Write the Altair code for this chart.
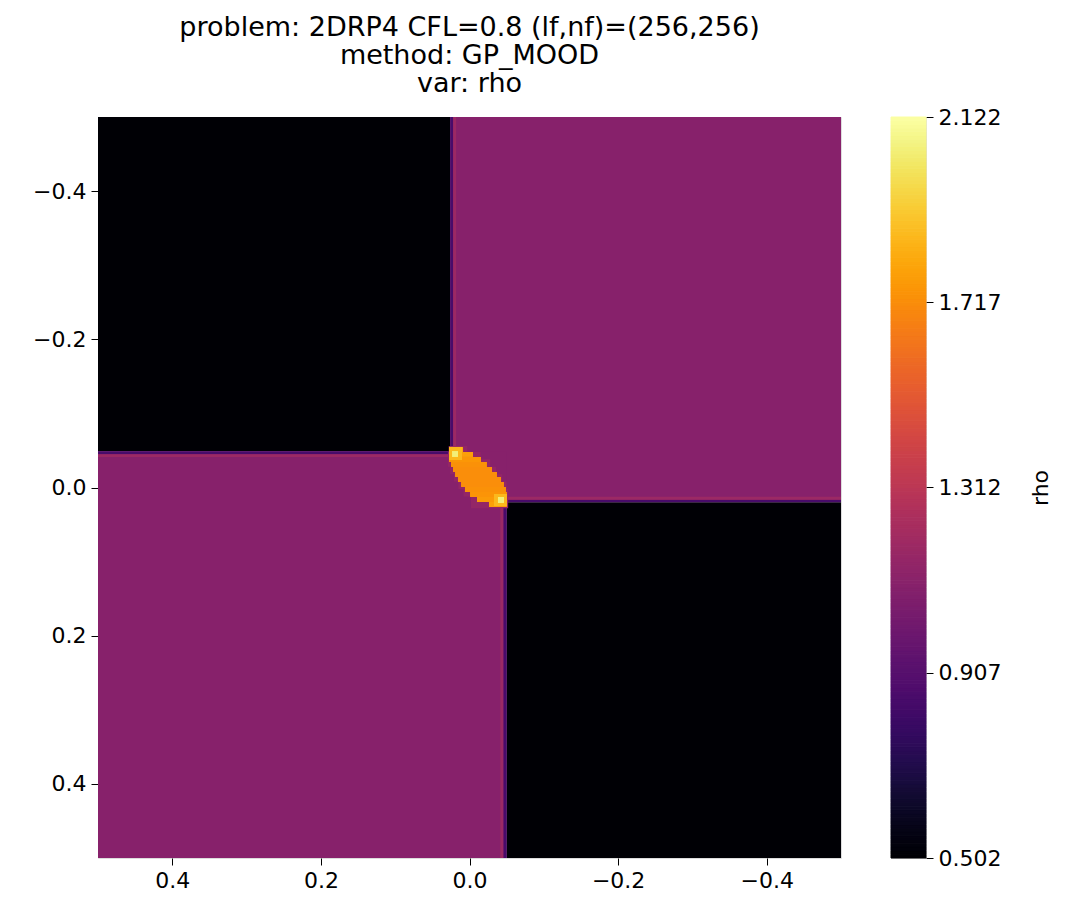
import altair as alt
import pandas as pd
import numpy as np

FONT = "DejaVu Sans"

title_lines = ["problem: 2DRP4 CFL=0.8 (lf,nf)=(256,256)", "method: GP_MOOD", "var: rho"]
x_ticks = [0.4, 0.2, 0.0, -0.2, -0.4]
y_ticks = [-0.4, -0.2, 0.0, 0.2, 0.4]
cbar_ticks = [0.502, 0.907, 1.312, 1.717, 2.122]
rho_min, rho_max = 0.502, 2.122

# four constant states (quadrants)
reg_x0 = [0.5, 0.026, 0.5, -0.050]
reg_x1 = [0.026, -0.5, -0.050, -0.5]
reg_y0 = [-0.5, -0.5, -0.049, 0.020]
reg_y1 = [-0.049, 0.020, 0.5, 0.5]
reg_rho = [0.507, 1.1, 1.1, 0.507]

# smeared contact/shock edges
edge_x0 = [0.026, 0.022, 0.5, 0.5, -0.050, -0.050, -0.0455, -0.0415]
edge_x1 = [0.022, 0.018, 0.026, 0.026, -0.5, -0.5, -0.050, -0.0455]
edge_y0 = [-0.5, -0.5, -0.049, -0.045, 0.0165, 0.0125, 0.020, 0.020]
edge_y1 = [-0.049, -0.049, -0.045, -0.041, 0.020, 0.0165, 0.5, 0.5]
edge_rho = [0.85, 1.18, 0.85, 1.18, 0.85, 1.18, 0.85, 1.18]

# faint lighter halo around the central lens
halo_y0 = [-0.0560, -0.0480, -0.0380, -0.0280, -0.0180, -0.0080, 0.0020, 0.0120]
halo_y1 = [-0.0480, -0.0380, -0.0280, -0.0180, -0.0080, 0.0020, 0.0120, 0.0280]
halo_x0 = [0.0280, 0.0290, 0.0290, 0.0260, 0.0210, 0.0150, 0.0080, -0.0020]
halo_x1 = [0.0030, -0.0150, -0.0280, -0.0360, -0.0440, -0.0500, -0.0520, -0.0520]
halo_rho = [1.15, 1.15, 1.15, 1.15, 1.15, 1.15, 1.15, 1.15]

# central lens, row by row
ell_y0 = [-0.0547, -0.0479, -0.0412, -0.0344, -0.0277, -0.0209, -0.0142, -0.0074, -0.0007, 0.0061, 0.0128, 0.0196]
ell_y1 = [-0.0479, -0.0412, -0.0344, -0.0277, -0.0209, -0.0142, -0.0074, -0.0007, 0.0061, 0.0128, 0.0196, 0.0263]
ell_x0 = [0.0249, 0.0276, 0.0276, 0.0249, 0.0222, 0.0195, 0.0155, 0.0114, 0.0061, -0.0007, -0.0101, -0.0262]
ell_x1 = [0.0087, -0.0047, -0.0155, -0.0235, -0.0303, -0.0370, -0.0424, -0.0464, -0.0491, -0.0504, -0.0504, -0.0504]
ell_rho = [1.80, 1.78, 1.75, 1.73, 1.72, 1.72, 1.72, 1.72, 1.73, 1.74, 1.76, 1.78]

# bright spots at the lens tips
spot_x0 = [0.0276, 0.0235, -0.0329, -0.0383]
spot_x1 = [0.0101, 0.0155, -0.0504, -0.0464]
spot_y0 = [-0.0547, -0.0492, 0.0088, 0.0128]
spot_y1 = [-0.0371, -0.0412, 0.0250, 0.0209]
spot_rho = [1.86, 2.05, 1.86, 2.05]

df = pd.DataFrame({
    "x0": reg_x0 + edge_x0 + halo_x0 + ell_x0 + spot_x0,
    "x1": reg_x1 + edge_x1 + halo_x1 + ell_x1 + spot_x1,
    "y0": reg_y0 + edge_y0 + halo_y0 + ell_y0 + spot_y0,
    "y1": reg_y1 + edge_y1 + halo_y1 + ell_y1 + spot_y1,
    "rho": reg_rho + edge_rho + halo_rho + ell_rho + spot_rho,
})
df["order"] = range(len(df))

color_scale = alt.Scale(scheme="inferno", domain=[rho_min, rho_max], clamp=True)

LABEL_SIZE = 22

axis_common = dict(
    grid=False, domain=False, tickColor="black", tickSize=7, tickWidth=1,
    labelFontSize=LABEL_SIZE, labelColor="black", labelFont=FONT, labelPadding=5, title=None,
)

heat = alt.Chart(df).mark_rect(clip=True).encode(
    x=alt.X("x0:Q", scale=alt.Scale(domain=[-0.5, 0.5], reverse=True, nice=False, zero=False),
            axis=alt.Axis(values=x_ticks, format=".1f", **axis_common)),
    x2="x1:Q",
    y=alt.Y("y0:Q", scale=alt.Scale(domain=[-0.5, 0.5], reverse=True, nice=False, zero=False),
            axis=alt.Axis(values=y_ticks, format=".1f", **axis_common)),
    y2="y1:Q",
    color=alt.Color("rho:Q", scale=color_scale, legend=None),
    order="order:Q",
).properties(
    width=743, height=741,
    title=alt.TitleParams(title_lines, font=FONT, fontSize=27, fontWeight="normal",
                          color="black", anchor="middle", lineHeight=28, offset=19),
)

edges = np.linspace(rho_min, rho_max, 201)
cb = pd.DataFrame({"v0": edges[:-1], "v1": edges[1:], "c": "cb"})
cb["rho"] = (cb["v0"] + cb["v1"]) / 2

cbar = alt.Chart(cb).mark_rect(strokeWidth=1).encode(
    x=alt.X("c:N", axis=None, scale=alt.Scale(paddingInner=0, paddingOuter=0)),
    y=alt.Y("v0:Q", scale=alt.Scale(domain=[rho_min, rho_max], nice=False, zero=False),
            axis=alt.Axis(orient="right", values=cbar_ticks, format=".3f",
                          grid=False, domain=False, tickColor="black", tickSize=7,
                          labelFontSize=LABEL_SIZE, labelColor="black", labelFont=FONT, labelPadding=5,
                          title="rho", titleAngle=270, titleBaseline="top", titleFont=FONT,
                          titleFontSize=LABEL_SIZE, titleFontWeight="normal", titleColor="black",
                          titlePadding=30)),
    y2="v1:Q",
    color=alt.Color("rho:Q", scale=color_scale, legend=None),
    stroke=alt.Stroke("rho:Q", scale=color_scale, legend=None),
).properties(width=35, height=741)

chart = alt.hconcat(heat, cbar, spacing=50, bounds="flush").properties(
    padding={"left": 24, "top": 5, "right": 0, "bottom": 0}
).configure_view(stroke="black", strokeWidth=1.2).configure(background="white")

chart.save("out.html", embed_options={"renderer": "svg", "actions": False})
